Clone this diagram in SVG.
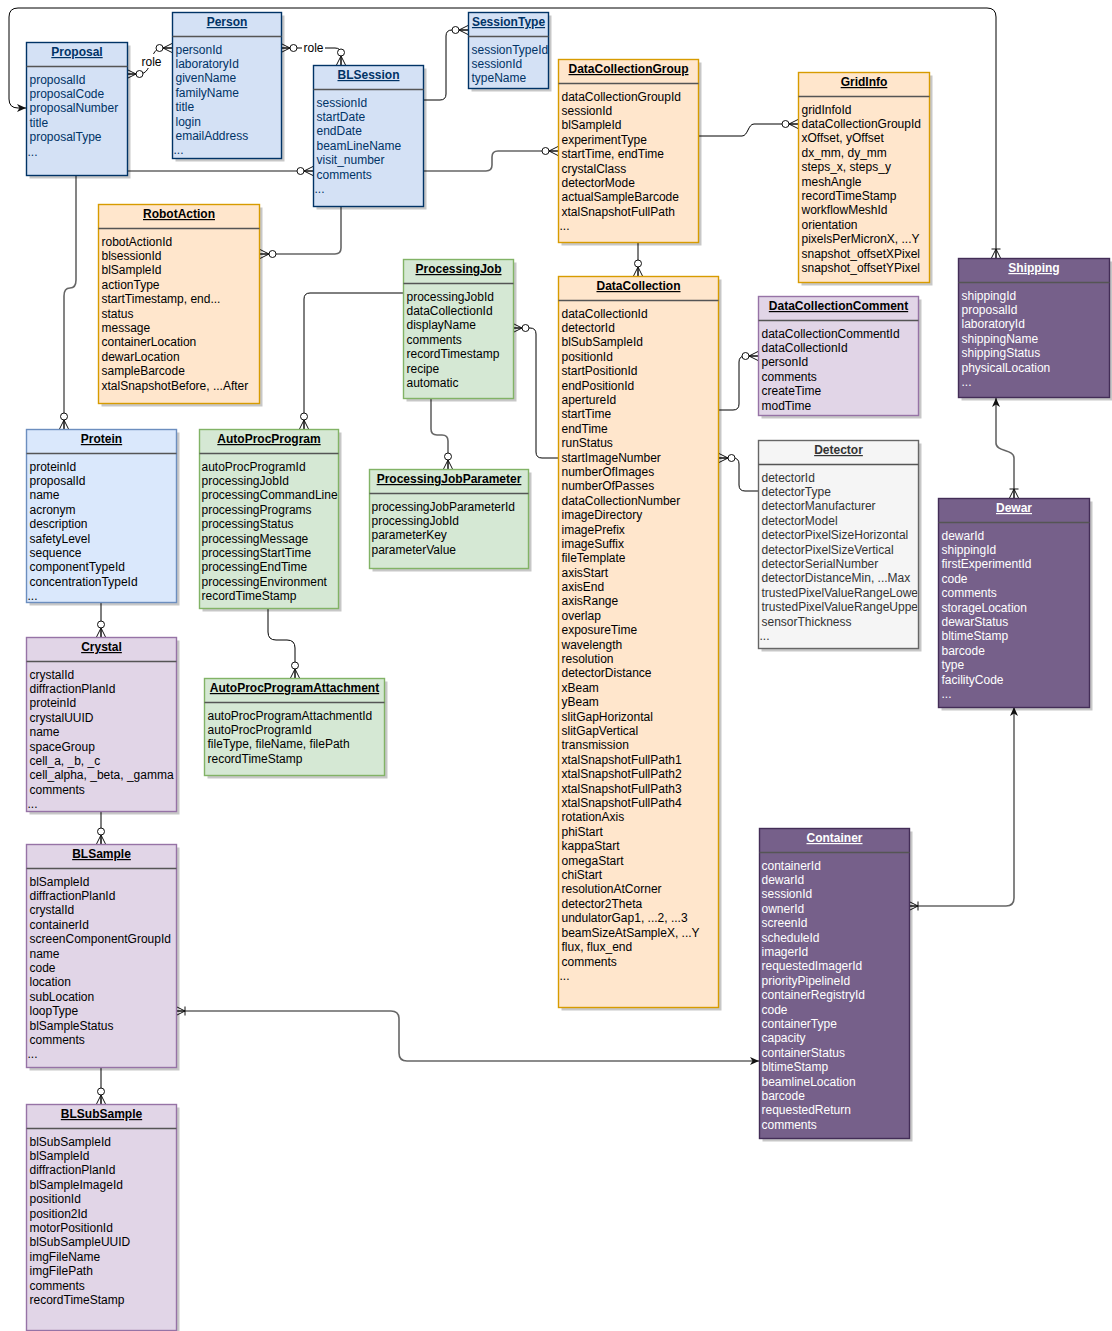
<svg xmlns="http://www.w3.org/2000/svg" width="1112" height="1331" viewBox="0 0 1112 1331">
<style>
text{font-family:"Liberation Sans",Arial,Helvetica,sans-serif;font-size:12px}
.t{font-weight:bold;text-decoration:underline;text-anchor:middle}
.sh{fill:#000;opacity:.22;stroke:none}
.box{stroke-width:1.4}
.dv{stroke:#555;stroke-width:1.5}
.blue .box{fill:#D4E1F5;stroke:#003366}.blue text{fill:#003366}
.lblue .box{fill:#dae8fc;stroke:#6c8ebf}.lblue text{fill:#000}
.orange .box{fill:#ffe6cc;stroke:#d79b00}.orange text{fill:#000}
.green .box{fill:#d5e8d4;stroke:#82b366}.green text{fill:#000}
.lpurple .box{fill:#e1d5e7;stroke:#9673a6}.lpurple text{fill:#000}
.grey .box{fill:#f5f5f5;stroke:#666}.grey text{fill:#333}
.dpurple .box{fill:#76608a;stroke:#432D57}.dpurple text{fill:#fff}
.c{fill:none;stroke:#000;stroke-width:1}
.cg{fill:none;stroke:#666;stroke-width:1.6}
.lbl{fill:#fff;stroke:none}
.lt{text-anchor:middle;fill:#000}
</style>
<defs>
<marker id="zm" markerUnits="userSpaceOnUse" orient="auto-start-reverse" refX="0" refY="0" markerWidth="1" markerHeight="1" overflow="visible">
<path d="M0,-4.5 L-9,0 L0,4.5 M0,0 L-9,0" fill="none" stroke="#111" stroke-width="1"/>
<circle cx="-12.5" cy="0" r="3.5" fill="#fff" stroke="#111" stroke-width="1"/>
</marker>
<marker id="om" markerUnits="userSpaceOnUse" orient="auto-start-reverse" refX="0" refY="0" markerWidth="1" markerHeight="1" overflow="visible">
<path d="M0,-4.5 L-9,0 L0,4.5 M0,0 L-9,0 M-9,-4.5 L-9,4.5" fill="none" stroke="#111" stroke-width="1"/>
</marker>
<marker id="ar" markerUnits="userSpaceOnUse" orient="auto-start-reverse" refX="0" refY="0" markerWidth="1" markerHeight="1" overflow="visible">
<path d="M0,0 L-9,-4 L-6.5,0 L-9,4 z" fill="#111" stroke="none"/>
</marker>
<clipPath id="clipDet"><rect x="758.5" y="440.5" width="159" height="208"/></clipPath>
</defs>

<g id="connectors">
<path class="c" d="M127,74 L139,74 C147,74 149,67 151,61 C153,54 155,48 163,48 L172,48" marker-start="url(#zm)" marker-end="url(#zm)"/>
<path class="c" d="M281,48 L335,48 Q341,48 341,54 L341,65" marker-start="url(#zm)" marker-end="url(#zm)"/>
<path class="c" d="M423,100 L440,100 Q446,100 446,94 L446,36 Q446,30 452,30 L468,30" marker-end="url(#zm)"/>
<path class="cg" d="M127,171 L313,171" marker-end="url(#zm)"/>
<path class="cg" d="M423,171 L486,171 Q492,171 492,165 L492,157 Q492,151 498,151 L558,151" marker-end="url(#zm)"/>
<path class="cg" d="M76,175 L76,280 C76,286 74,288 70,288 C66,288 64,290 64,296 L64,429" marker-end="url(#zm)"/>
<path class="cg" d="M341,206 L341,248 Q341,254 335,254 L260,254" marker-end="url(#zm)"/>
<path class="c" d="M403,293 L310,293 Q304,293 304,299 L304,429" marker-end="url(#zm)"/>
<path class="cg" d="M431,398 L431,429 Q431,435 437,435 L442,435 Q448,435 448,441 L448,469" marker-end="url(#zm)"/>
<path class="c" d="M558,458 L542,458 Q536,458 536,452 L536,334 Q536,328 530,328 L513,328" marker-end="url(#zm)"/>
<path class="c" d="M638,242 L638,276" marker-end="url(#zm)"/>
<path class="c" d="M699,136 L742,136 C748,136 748,124 754,124 L798,124" marker-end="url(#zm)"/>
<path class="c" d="M719,410 L733,410 Q739,410 739,404 L739,362 Q739,356 745,356 L758,356" marker-end="url(#zm)"/>
<path class="c" d="M758,491 L745,491 Q739,491 739,485 L739,464 Q739,458 733,458 L719,458" marker-end="url(#zm)"/>
<path class="c" d="M996,258 L996,17 Q996,8 987,8 L18,8 Q9,8 9,17 L9,99 Q9,108 18,108 L26,108" marker-start="url(#om)" marker-end="url(#ar)"/>
<path class="cg" d="M1014,498 L1014,458 C1014,449 996,452 996,443 L996,398" marker-start="url(#om)" marker-end="url(#ar)"/>
<path class="cg" d="M909,906 L1006,906 Q1014,906 1014,898 L1014,707" marker-start="url(#om)" marker-end="url(#ar)"/>
<path class="cg" d="M176,1011 L391,1011 Q399,1011 399,1019 L399,1053 Q399,1061 407,1061 L759,1061" marker-start="url(#om)" marker-end="url(#ar)"/>
<path class="c" d="M101,602 L101,637" marker-end="url(#zm)"/>
<path class="c" d="M101,811 L101,844" marker-end="url(#zm)"/>
<path class="c" d="M101,1067 L101,1104" marker-end="url(#zm)"/>
<path class="c" d="M268,608 L268,632 Q268,640 276,640 L287,640 Q295,640 295,648 L295,678" marker-end="url(#zm)"/>
<rect class="lbl" x="140" y="54" width="23" height="14"/>
<text class="lt" x="151.5" y="65.5">role</text>
<rect class="lbl" x="302" y="41" width="23" height="13"/>
<text class="lt" x="313.5" y="51.5">role</text>
</g>

<g id="proposal" class="blue">
<rect class="sh" x="29.5" y="45.5" width="101" height="133"/>
<rect class="box" x="26.5" y="42.5" width="101" height="133"/>
<line class="dv" x1="26.5" y1="66.5" x2="127.5" y2="66.5"/>
<text class="t" x="77" y="56">Proposal</text>
<text y="83.5"><tspan x="29.5">proposalId</tspan><tspan x="29.5" dy="14.4">proposalCode</tspan><tspan x="29.5" dy="14.4">proposalNumber</tspan><tspan x="29.5" dy="14.4">title</tspan><tspan x="29.5" dy="14.4">proposalType</tspan><tspan x="27.5" dy="14.4">...</tspan></text>
</g>

<g id="person" class="blue">
<rect class="sh" x="175.5" y="15.5" width="109" height="146"/>
<rect class="box" x="172.5" y="12.5" width="109" height="146"/>
<line class="dv" x1="172.5" y1="36.5" x2="281.5" y2="36.5"/>
<text class="t" x="227" y="26">Person</text>
<text y="53.5"><tspan x="175.5">personId</tspan><tspan x="175.5" dy="14.4">laboratoryId</tspan><tspan x="175.5" dy="14.4">givenName</tspan><tspan x="175.5" dy="14.4">familyName</tspan><tspan x="175.5" dy="14.4">title</tspan><tspan x="175.5" dy="14.4">login</tspan><tspan x="175.5" dy="14.4">emailAddress</tspan><tspan x="173.5" dy="14.4">...</tspan></text>
</g>

<g id="blsession" class="blue">
<rect class="sh" x="316.5" y="68.5" width="110" height="141"/>
<rect class="box" x="313.5" y="65.5" width="110" height="141"/>
<line class="dv" x1="313.5" y1="89.5" x2="423.5" y2="89.5"/>
<text class="t" x="368.5" y="79">BLSession</text>
<text y="106.5"><tspan x="316.5">sessionId</tspan><tspan x="316.5" dy="14.4">startDate</tspan><tspan x="316.5" dy="14.4">endDate</tspan><tspan x="316.5" dy="14.4">beamLineName</tspan><tspan x="316.5" dy="14.4">visit_number</tspan><tspan x="316.5" dy="14.4">comments</tspan><tspan x="314.5" dy="14.4">...</tspan></text>
</g>

<g id="sessiontype" class="blue">
<rect class="sh" x="471.5" y="15.5" width="80" height="76"/>
<rect class="box" x="468.5" y="12.5" width="80" height="76"/>
<line class="dv" x1="468.5" y1="36.5" x2="548.5" y2="36.5"/>
<text class="t" x="508.5" y="26">SessionType</text>
<text y="53.5"><tspan x="471.5">sessionTypeId</tspan><tspan x="471.5" dy="14.4">sessionId</tspan><tspan x="471.5" dy="14.4">typeName</tspan></text>
</g>

<g id="datacollectiongroup" class="orange">
<rect class="sh" x="561.5" y="62.5" width="140" height="183"/>
<rect class="box" x="558.5" y="59.5" width="140" height="183"/>
<line class="dv" x1="558.5" y1="83.5" x2="698.5" y2="83.5"/>
<text class="t" x="628.5" y="73">DataCollectionGroup</text>
<text y="100.5"><tspan x="561.5">dataCollectionGroupId</tspan><tspan x="561.5" dy="14.4">sessionId</tspan><tspan x="561.5" dy="14.4">blSampleId</tspan><tspan x="561.5" dy="14.4">experimentType</tspan><tspan x="561.5" dy="14.4">startTime, endTime</tspan><tspan x="561.5" dy="14.4">crystalClass</tspan><tspan x="561.5" dy="14.4">detectorMode</tspan><tspan x="561.5" dy="14.4">actualSampleBarcode</tspan><tspan x="561.5" dy="14.4">xtalSnapshotFullPath</tspan><tspan x="559.5" dy="14.4">...</tspan></text>
</g>

<g id="gridinfo" class="orange">
<rect class="sh" x="801.5" y="75.5" width="131" height="210"/>
<rect class="box" x="798.5" y="72.5" width="131" height="210"/>
<line class="dv" x1="798.5" y1="96.5" x2="929.5" y2="96.5"/>
<text class="t" x="864" y="86">GridInfo</text>
<text y="113.5"><tspan x="801.5">gridInfoId</tspan><tspan x="801.5" dy="14.4">dataCollectionGroupId</tspan><tspan x="801.5" dy="14.4">xOffset, yOffset</tspan><tspan x="801.5" dy="14.4">dx_mm, dy_mm</tspan><tspan x="801.5" dy="14.4">steps_x, steps_y</tspan><tspan x="801.5" dy="14.4">meshAngle</tspan><tspan x="801.5" dy="14.4">recordTimeStamp</tspan><tspan x="801.5" dy="14.4">workflowMeshId</tspan><tspan x="801.5" dy="14.4">orientation</tspan><tspan x="801.5" dy="14.4">pixelsPerMicronX, ...Y</tspan><tspan x="801.5" dy="14.4">snapshot_offsetXPixel</tspan><tspan x="801.5" dy="14.4">snapshot_offsetYPixel</tspan></text>
</g>

<g id="shipping" class="dpurple">
<rect class="sh" x="961.5" y="261.5" width="151" height="139"/>
<rect class="box" x="958.5" y="258.5" width="151" height="139"/>
<line class="dv" x1="958.5" y1="282.5" x2="1109.5" y2="282.5"/>
<text class="t" x="1034" y="272">Shipping</text>
<text y="299.5"><tspan x="961.5">shippingId</tspan><tspan x="961.5" dy="14.4">proposalId</tspan><tspan x="961.5" dy="14.4">laboratoryId</tspan><tspan x="961.5" dy="14.4">shippingName</tspan><tspan x="961.5" dy="14.4">shippingStatus</tspan><tspan x="961.5" dy="14.4">physicalLocation</tspan><tspan x="961.5" dy="14.4">...</tspan></text>
</g>

<g id="robotaction" class="orange">
<rect class="sh" x="101.5" y="207.5" width="161" height="199"/>
<rect class="box" x="98.5" y="204.5" width="161" height="199"/>
<line class="dv" x1="98.5" y1="228.5" x2="259.5" y2="228.5"/>
<text class="t" x="179" y="218">RobotAction</text>
<text y="245.5"><tspan x="101.5">robotActionId</tspan><tspan x="101.5" dy="14.4">blsessionId</tspan><tspan x="101.5" dy="14.4">blSampleId</tspan><tspan x="101.5" dy="14.4">actionType</tspan><tspan x="101.5" dy="14.4">startTimestamp, end...</tspan><tspan x="101.5" dy="14.4">status</tspan><tspan x="101.5" dy="14.4">message</tspan><tspan x="101.5" dy="14.4">containerLocation</tspan><tspan x="101.5" dy="14.4">dewarLocation</tspan><tspan x="101.5" dy="14.4">sampleBarcode</tspan><tspan x="101.5" dy="14.4">xtalSnapshotBefore, ...After</tspan></text>
</g>

<g id="processingjob" class="green">
<rect class="sh" x="406.5" y="262.5" width="110" height="139"/>
<rect class="box" x="403.5" y="259.5" width="110" height="139"/>
<line class="dv" x1="403.5" y1="283.5" x2="513.5" y2="283.5"/>
<text class="t" x="458.5" y="273">ProcessingJob</text>
<text y="300.5"><tspan x="406.5">processingJobId</tspan><tspan x="406.5" dy="14.4">dataCollectionId</tspan><tspan x="406.5" dy="14.4">displayName</tspan><tspan x="406.5" dy="14.4">comments</tspan><tspan x="406.5" dy="14.4">recordTimestamp</tspan><tspan x="406.5" dy="14.4">recipe</tspan><tspan x="406.5" dy="14.4">automatic</tspan></text>
</g>

<g id="protein" class="lblue">
<rect class="sh" x="29.5" y="432.5" width="150" height="173"/>
<rect class="box" x="26.5" y="429.5" width="150" height="173"/>
<line class="dv" x1="26.5" y1="453.5" x2="176.5" y2="453.5"/>
<text class="t" x="101.5" y="443">Protein</text>
<text y="470.5"><tspan x="29.5">proteinId</tspan><tspan x="29.5" dy="14.4">proposalId</tspan><tspan x="29.5" dy="14.4">name</tspan><tspan x="29.5" dy="14.4">acronym</tspan><tspan x="29.5" dy="14.4">description</tspan><tspan x="29.5" dy="14.4">safetyLevel</tspan><tspan x="29.5" dy="14.4">sequence</tspan><tspan x="29.5" dy="14.4">componentTypeId</tspan><tspan x="29.5" dy="14.4">concentrationTypeId</tspan><tspan x="27.5" dy="14.4">...</tspan></text>
</g>

<g id="autoprocprogram" class="green">
<rect class="sh" x="202.5" y="432.5" width="139" height="179"/>
<rect class="box" x="199.5" y="429.5" width="139" height="179"/>
<line class="dv" x1="199.5" y1="453.5" x2="338.5" y2="453.5"/>
<text class="t" x="269" y="443">AutoProcProgram</text>
<text y="470.5"><tspan x="201.5">autoProcProgramId</tspan><tspan x="201.5" dy="14.4">processingJobId</tspan><tspan x="201.5" dy="14.4">processingCommandLine</tspan><tspan x="201.5" dy="14.4">processingPrograms</tspan><tspan x="201.5" dy="14.4">processingStatus</tspan><tspan x="201.5" dy="14.4">processingMessage</tspan><tspan x="201.5" dy="14.4">processingStartTime</tspan><tspan x="201.5" dy="14.4">processingEndTime</tspan><tspan x="201.5" dy="14.4">processingEnvironment</tspan><tspan x="201.5" dy="14.4">recordTimeStamp</tspan></text>
</g>

<g id="processingjobparameter" class="green">
<rect class="sh" x="372.5" y="472.5" width="159" height="99"/>
<rect class="box" x="369.5" y="469.5" width="159" height="99"/>
<line class="dv" x1="369.5" y1="493.5" x2="528.5" y2="493.5"/>
<text class="t" x="449" y="483">ProcessingJobParameter</text>
<text y="510.5"><tspan x="371.5">processingJobParameterId</tspan><tspan x="371.5" dy="14.4">processingJobId</tspan><tspan x="371.5" dy="14.4">parameterKey</tspan><tspan x="371.5" dy="14.4">parameterValue</tspan></text>
</g>

<g id="datacollection" class="orange">
<rect class="sh" x="561.5" y="279.5" width="160" height="731"/>
<rect class="box" x="558.5" y="276.5" width="160" height="731"/>
<line class="dv" x1="558.5" y1="300.5" x2="718.5" y2="300.5"/>
<text class="t" x="638.5" y="290">DataCollection</text>
<text y="317.5"><tspan x="561.5">dataCollectionId</tspan><tspan x="561.5" dy="14.4">detectorId</tspan><tspan x="561.5" dy="14.4">blSubSampleId</tspan><tspan x="561.5" dy="14.4">positionId</tspan><tspan x="561.5" dy="14.4">startPositionId</tspan><tspan x="561.5" dy="14.4">endPositionId</tspan><tspan x="561.5" dy="14.4">apertureId</tspan><tspan x="561.5" dy="14.4">startTime</tspan><tspan x="561.5" dy="14.4">endTime</tspan><tspan x="561.5" dy="14.4">runStatus</tspan><tspan x="561.5" dy="14.4">startImageNumber</tspan><tspan x="561.5" dy="14.4">numberOfImages</tspan><tspan x="561.5" dy="14.4">numberOfPasses</tspan><tspan x="561.5" dy="14.4">dataCollectionNumber</tspan><tspan x="561.5" dy="14.4">imageDirectory</tspan><tspan x="561.5" dy="14.4">imagePrefix</tspan><tspan x="561.5" dy="14.4">imageSuffix</tspan><tspan x="561.5" dy="14.4">fileTemplate</tspan><tspan x="561.5" dy="14.4">axisStart</tspan><tspan x="561.5" dy="14.4">axisEnd</tspan><tspan x="561.5" dy="14.4">axisRange</tspan><tspan x="561.5" dy="14.4">overlap</tspan><tspan x="561.5" dy="14.4">exposureTime</tspan><tspan x="561.5" dy="14.4">wavelength</tspan><tspan x="561.5" dy="14.4">resolution</tspan><tspan x="561.5" dy="14.4">detectorDistance</tspan><tspan x="561.5" dy="14.4">xBeam</tspan><tspan x="561.5" dy="14.4">yBeam</tspan><tspan x="561.5" dy="14.4">slitGapHorizontal</tspan><tspan x="561.5" dy="14.4">slitGapVertical</tspan><tspan x="561.5" dy="14.4">transmission</tspan><tspan x="561.5" dy="14.4">xtalSnapshotFullPath1</tspan><tspan x="561.5" dy="14.4">xtalSnapshotFullPath2</tspan><tspan x="561.5" dy="14.4">xtalSnapshotFullPath3</tspan><tspan x="561.5" dy="14.4">xtalSnapshotFullPath4</tspan><tspan x="561.5" dy="14.4">rotationAxis</tspan><tspan x="561.5" dy="14.4">phiStart</tspan><tspan x="561.5" dy="14.4">kappaStart</tspan><tspan x="561.5" dy="14.4">omegaStart</tspan><tspan x="561.5" dy="14.4">chiStart</tspan><tspan x="561.5" dy="14.4">resolutionAtCorner</tspan><tspan x="561.5" dy="14.4">detector2Theta</tspan><tspan x="561.5" dy="14.4">undulatorGap1, ...2, ...3</tspan><tspan x="561.5" dy="14.4">beamSizeAtSampleX, ...Y</tspan><tspan x="561.5" dy="14.4">flux, flux_end</tspan><tspan x="561.5" dy="14.4">comments</tspan><tspan x="559.5" dy="14.4">...</tspan></text>
</g>

<g id="datacollectioncomment" class="lpurple">
<rect class="sh" x="761.5" y="299.5" width="160" height="119"/>
<rect class="box" x="758.5" y="296.5" width="160" height="119"/>
<line class="dv" x1="758.5" y1="320.5" x2="918.5" y2="320.5"/>
<text class="t" x="838.5" y="310">DataCollectionComment</text>
<text y="337.5"><tspan x="761.5">dataCollectionCommentId</tspan><tspan x="761.5" dy="14.4">dataCollectionId</tspan><tspan x="761.5" dy="14.4">personId</tspan><tspan x="761.5" dy="14.4">comments</tspan><tspan x="761.5" dy="14.4">createTime</tspan><tspan x="761.5" dy="14.4">modTime</tspan></text>
</g>

<g id="detector" class="grey">
<rect class="sh" x="761.5" y="443.5" width="160" height="208"/>
<rect class="box" x="758.5" y="440.5" width="160" height="208"/>
<line class="dv" x1="758.5" y1="464.5" x2="918.5" y2="464.5"/>
<text class="t" x="838.5" y="454">Detector</text>
<text y="481.5" clip-path="url(#clipDet)"><tspan x="761.5">detectorId</tspan><tspan x="761.5" dy="14.4">detectorType</tspan><tspan x="761.5" dy="14.4">detectorManufacturer</tspan><tspan x="761.5" dy="14.4">detectorModel</tspan><tspan x="761.5" dy="14.4">detectorPixelSizeHorizontal</tspan><tspan x="761.5" dy="14.4">detectorPixelSizeVertical</tspan><tspan x="761.5" dy="14.4">detectorSerialNumber</tspan><tspan x="761.5" dy="14.4">detectorDistanceMin, ...Max</tspan><tspan x="761.5" dy="14.4">trustedPixelValueRangeLower</tspan><tspan x="761.5" dy="14.4">trustedPixelValueRangeUpper</tspan><tspan x="761.5" dy="14.4">sensorThickness</tspan><tspan x="759.5" dy="14.4">...</tspan></text>
</g>

<g id="dewar" class="dpurple">
<rect class="sh" x="941.5" y="501.5" width="151" height="209"/>
<rect class="box" x="938.5" y="498.5" width="151" height="209"/>
<line class="dv" x1="938.5" y1="522.5" x2="1089.5" y2="522.5"/>
<text class="t" x="1014" y="512">Dewar</text>
<text y="539.5"><tspan x="941.5">dewarId</tspan><tspan x="941.5" dy="14.4">shippingId</tspan><tspan x="941.5" dy="14.4">firstExperimentId</tspan><tspan x="941.5" dy="14.4">code</tspan><tspan x="941.5" dy="14.4">comments</tspan><tspan x="941.5" dy="14.4">storageLocation</tspan><tspan x="941.5" dy="14.4">dewarStatus</tspan><tspan x="941.5" dy="14.4">bltimeStamp</tspan><tspan x="941.5" dy="14.4">barcode</tspan><tspan x="941.5" dy="14.4">type</tspan><tspan x="941.5" dy="14.4">facilityCode</tspan><tspan x="941.5" dy="14.4">...</tspan></text>
</g>

<g id="crystal" class="lpurple">
<rect class="sh" x="29.5" y="640.5" width="150" height="174"/>
<rect class="box" x="26.5" y="637.5" width="150" height="174"/>
<line class="dv" x1="26.5" y1="661.5" x2="176.5" y2="661.5"/>
<text class="t" x="101.5" y="651">Crystal</text>
<text y="678.5"><tspan x="29.5">crystalId</tspan><tspan x="29.5" dy="14.4">diffractionPlanId</tspan><tspan x="29.5" dy="14.4">proteinId</tspan><tspan x="29.5" dy="14.4">crystalUUID</tspan><tspan x="29.5" dy="14.4">name</tspan><tspan x="29.5" dy="14.4">spaceGroup</tspan><tspan x="29.5" dy="14.4">cell_a, _b, _c</tspan><tspan x="29.5" dy="14.4">cell_alpha, _beta, _gamma</tspan><tspan x="29.5" dy="14.4">comments</tspan><tspan x="27.5" dy="14.4">...</tspan></text>
</g>

<g id="autoprocprogramattachment" class="green">
<rect class="sh" x="207.5" y="681.5" width="180" height="97"/>
<rect class="box" x="204.5" y="678.5" width="180" height="97"/>
<line class="dv" x1="204.5" y1="702.5" x2="384.5" y2="702.5"/>
<text class="t" x="294.5" y="692">AutoProcProgramAttachment</text>
<text y="719.5"><tspan x="207.5">autoProcProgramAttachmentId</tspan><tspan x="207.5" dy="14.4">autoProcProgramId</tspan><tspan x="207.5" dy="14.4">fileType, fileName, filePath</tspan><tspan x="207.5" dy="14.4">recordTimeStamp</tspan></text>
</g>

<g id="blsample" class="lpurple">
<rect class="sh" x="29.5" y="847.5" width="150" height="223"/>
<rect class="box" x="26.5" y="844.5" width="150" height="223"/>
<line class="dv" x1="26.5" y1="868.5" x2="176.5" y2="868.5"/>
<text class="t" x="101.5" y="858">BLSample</text>
<text y="885.5"><tspan x="29.5">blSampleId</tspan><tspan x="29.5" dy="14.4">diffractionPlanId</tspan><tspan x="29.5" dy="14.4">crystalId</tspan><tspan x="29.5" dy="14.4">containerId</tspan><tspan x="29.5" dy="14.4">screenComponentGroupId</tspan><tspan x="29.5" dy="14.4">name</tspan><tspan x="29.5" dy="14.4">code</tspan><tspan x="29.5" dy="14.4">location</tspan><tspan x="29.5" dy="14.4">subLocation</tspan><tspan x="29.5" dy="14.4">loopType</tspan><tspan x="29.5" dy="14.4">blSampleStatus</tspan><tspan x="29.5" dy="14.4">comments</tspan><tspan x="27.5" dy="14.4">...</tspan></text>
</g>

<g id="blsubsample" class="lpurple">
<rect class="sh" x="29.5" y="1107.5" width="150" height="226"/>
<rect class="box" x="26.5" y="1104.5" width="150" height="226"/>
<line class="dv" x1="26.5" y1="1128.5" x2="176.5" y2="1128.5"/>
<text class="t" x="101.5" y="1118">BLSubSample</text>
<text y="1145.5"><tspan x="29.5">blSubSampleId</tspan><tspan x="29.5" dy="14.4">blSampleId</tspan><tspan x="29.5" dy="14.4">diffractionPlanId</tspan><tspan x="29.5" dy="14.4">blSampleImageId</tspan><tspan x="29.5" dy="14.4">positionId</tspan><tspan x="29.5" dy="14.4">position2Id</tspan><tspan x="29.5" dy="14.4">motorPositionId</tspan><tspan x="29.5" dy="14.4">blSubSampleUUID</tspan><tspan x="29.5" dy="14.4">imgFileName</tspan><tspan x="29.5" dy="14.4">imgFilePath</tspan><tspan x="29.5" dy="14.4">comments</tspan><tspan x="29.5" dy="14.4">recordTimeStamp</tspan></text>
</g>

<g id="container" class="dpurple">
<rect class="sh" x="762.5" y="831.5" width="150" height="310"/>
<rect class="box" x="759.5" y="828.5" width="150" height="310"/>
<line class="dv" x1="759.5" y1="852.5" x2="909.5" y2="852.5"/>
<text class="t" x="834.5" y="842">Container</text>
<text y="869.5"><tspan x="761.5">containerId</tspan><tspan x="761.5" dy="14.4">dewarId</tspan><tspan x="761.5" dy="14.4">sessionId</tspan><tspan x="761.5" dy="14.4">ownerId</tspan><tspan x="761.5" dy="14.4">screenId</tspan><tspan x="761.5" dy="14.4">scheduleId</tspan><tspan x="761.5" dy="14.4">imagerId</tspan><tspan x="761.5" dy="14.4">requestedImagerId</tspan><tspan x="761.5" dy="14.4">priorityPipelineId</tspan><tspan x="761.5" dy="14.4">containerRegistryId</tspan><tspan x="761.5" dy="14.4">code</tspan><tspan x="761.5" dy="14.4">containerType</tspan><tspan x="761.5" dy="14.4">capacity</tspan><tspan x="761.5" dy="14.4">containerStatus</tspan><tspan x="761.5" dy="14.4">bltimeStamp</tspan><tspan x="761.5" dy="14.4">beamlineLocation</tspan><tspan x="761.5" dy="14.4">barcode</tspan><tspan x="761.5" dy="14.4">requestedReturn</tspan><tspan x="761.5" dy="14.4">comments</tspan></text>
</g>
</svg>
